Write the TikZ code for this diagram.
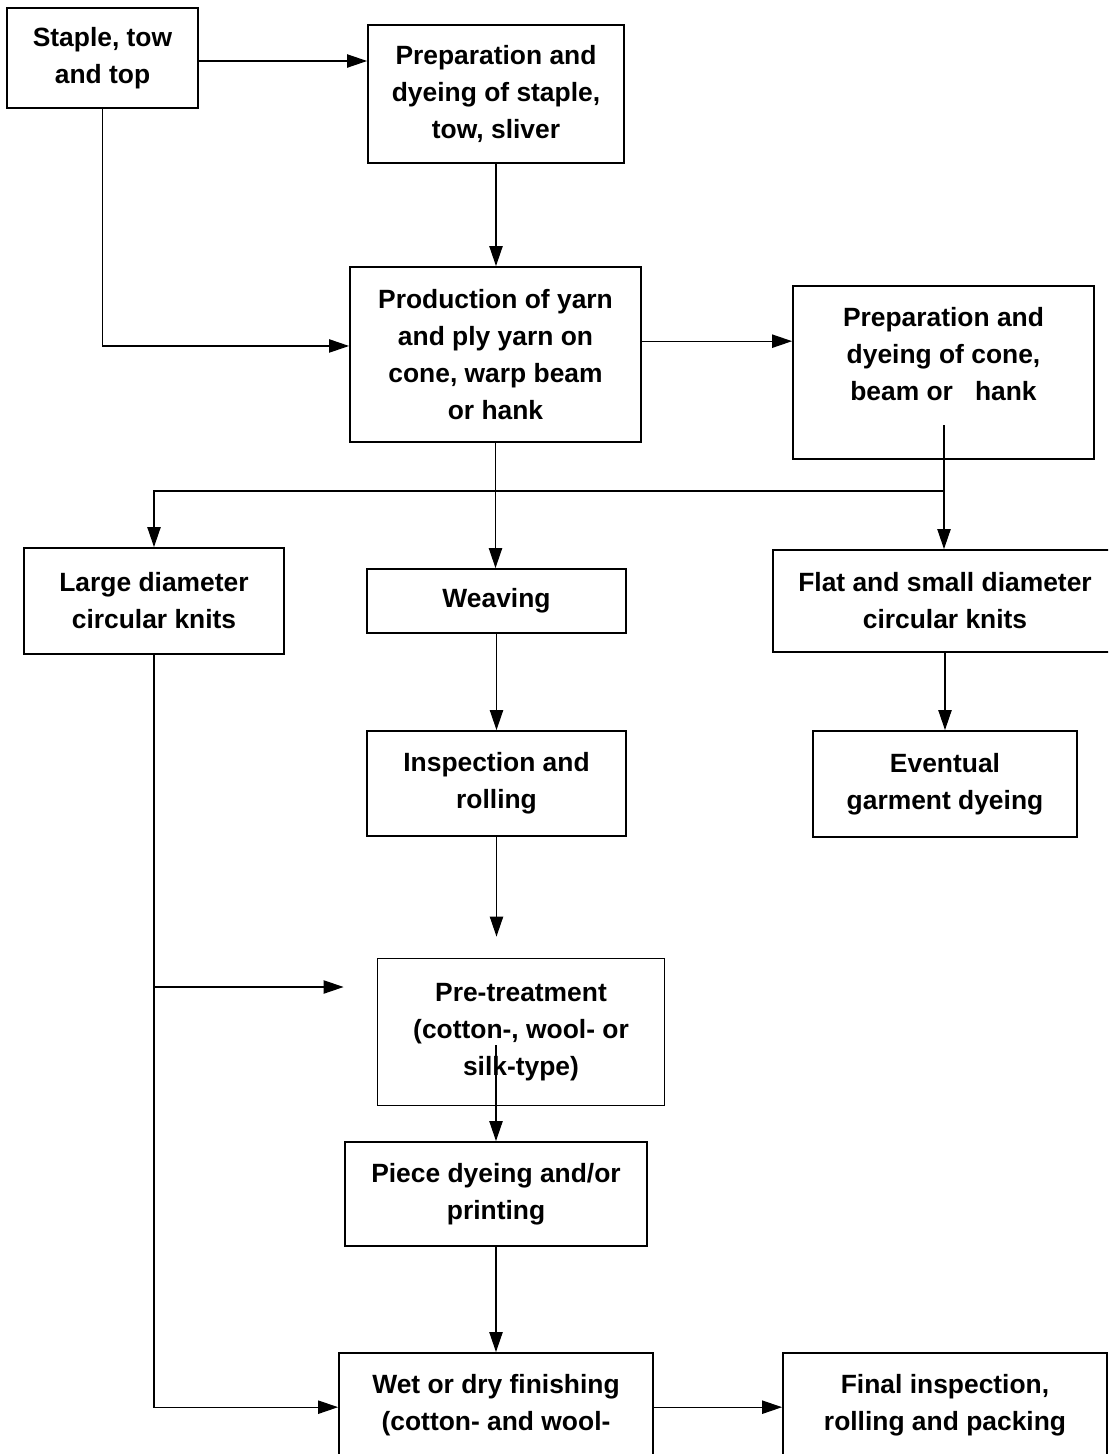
\documentclass[tikz,border=0pt]{standalone}
\usepackage{fontspec}
\setmainfont{Liberation Sans}
\usepackage{tikz}
\usetikzlibrary{arrows.meta}
\usetikzlibrary{positioning}

\begin{document}
\begin{tikzpicture}[x=0.75pt,y=-0.75pt,
	stage/.style={draw,line width=1.4pt,align=center,inner sep=2pt,
		font=\bfseries\fontsize{19.8}{27.75}\selectfont},
	flow/.style={line width=0.9pt,-{Triangle[length=15pt,width=10pt]}}]
	\useasboundingbox (0,0) rectangle (1108,1454);
	\clip (0,0) rectangle (1108,1454);
	
	\node [stage,minimum width=143.25pt,minimum height=75pt] (staple) at (102.5,58) {Staple, tow\\and top};
	\node [stage,minimum width=192pt,minimum height=103.5pt] (prepstaple) at (496,94) {Preparation and\\dyeing of staple,\\tow, sliver};
	\node [stage,minimum width=218.25pt,minimum height=131.25pt] (yarn) at (495.5,354.5) {Production of yarn\\and ply yarn on\\cone, warp beam\\or hank};
	\node [stage,minimum width=225.75pt,minimum height=129.75pt] (prepcone) at (943.5,372.5) {Preparation and\\dyeing of cone,\\beam or\ \ \ hank\\~};
	
	\node [stage,minimum width=195pt,minimum height=79.5pt] (large) at (154,601) {Large diameter\\circular knits};
	\node [stage,minimum width=194.25pt,minimum height=48pt] (weaving) at (496.5,601) {Weaving};
	\node [stage,minimum width=258pt,minimum height=76.5pt] (flat) at (945,601) {Flat and small diameter\\circular knits};
	
	\node [stage,minimum width=194.25pt,minimum height=78.75pt] (inspect) at (496.5,783.5) {Inspection and\\rolling};
	\node [stage,minimum width=198pt,minimum height=79.5pt] (eventual) at (945,784) {Eventual\\garment dyeing};
	
	\node [stage,minimum width=215.25pt,minimum height=110.25pt] (pretreat) at (521,1032) {Pre-treatment\\(cotton-, wool- or\\silk-type)};
	\node [stage,minimum width=226.5pt,minimum height=78pt] (piece) at (496,1194) {Piece dyeing and/or\\printing};
	\node [stage,minimum width=235.5pt,minimum height=101.25pt] (wet) at (496,1420.5) {Wet or dry finishing\\(cotton- and wool-\\~};
	\node [stage,minimum width=243pt,minimum height=101.25pt] (final) at (945,1420.5) {Final inspection,\\rolling and packing\\~};
	
	\draw[flow] ([yshift=-2.25pt]staple.east) -- ([yshift=-2.25pt]staple.east -| prepstaple.west);
	\draw[flow] (staple.south) |- ([yshift=6.4pt]yarn.west);
	\draw[flow] (prepstaple.south) -- (prepstaple.south |- yarn.north);
	\draw[flow] ([yshift=10pt]yarn.east) -- ([yshift=10pt]yarn.east -| prepcone.west);
	
	%\draw(prepcone.south) -- (flat.north);
	\coordinate [] (conesrc) at (944,425);
	\coordinate [] (split) at (944,491);
	\draw[flow] (conesrc) -- (conesrc |- flat.north);
	\draw[flow] (split) -| (large.north);
	
	\draw[flow] (yarn.south) -- (yarn.south |- weaving.north);
	\draw[flow] (weaving.south) -- (inspect.north);
	\draw[flow] (flat.south) -- (eventual.north);
	\draw[flow,shorten >=15.75pt] (inspect.south) -- (inspect.south |- pretreat.north);
	
	\coordinate [] (knitsplit) at (large.south |- 0,987);
	\draw[flow,shorten >=24.75pt] (knitsplit) -- (knitsplit -| pretreat.west);
	\draw[flow] (large.south) |- ([yshift=10pt]wet.west);
	
	\coordinate [] (presrc) at (496,1045);
	\draw[flow] (presrc) -- (presrc |- piece.north);
	\draw[flow] (piece.south) -- (piece.south |- wet.north);
	\draw[flow] ([yshift=10pt]wet.east) -- ([yshift=10pt]wet.east -| final.west);
	
\end{tikzpicture}
\end{document}
